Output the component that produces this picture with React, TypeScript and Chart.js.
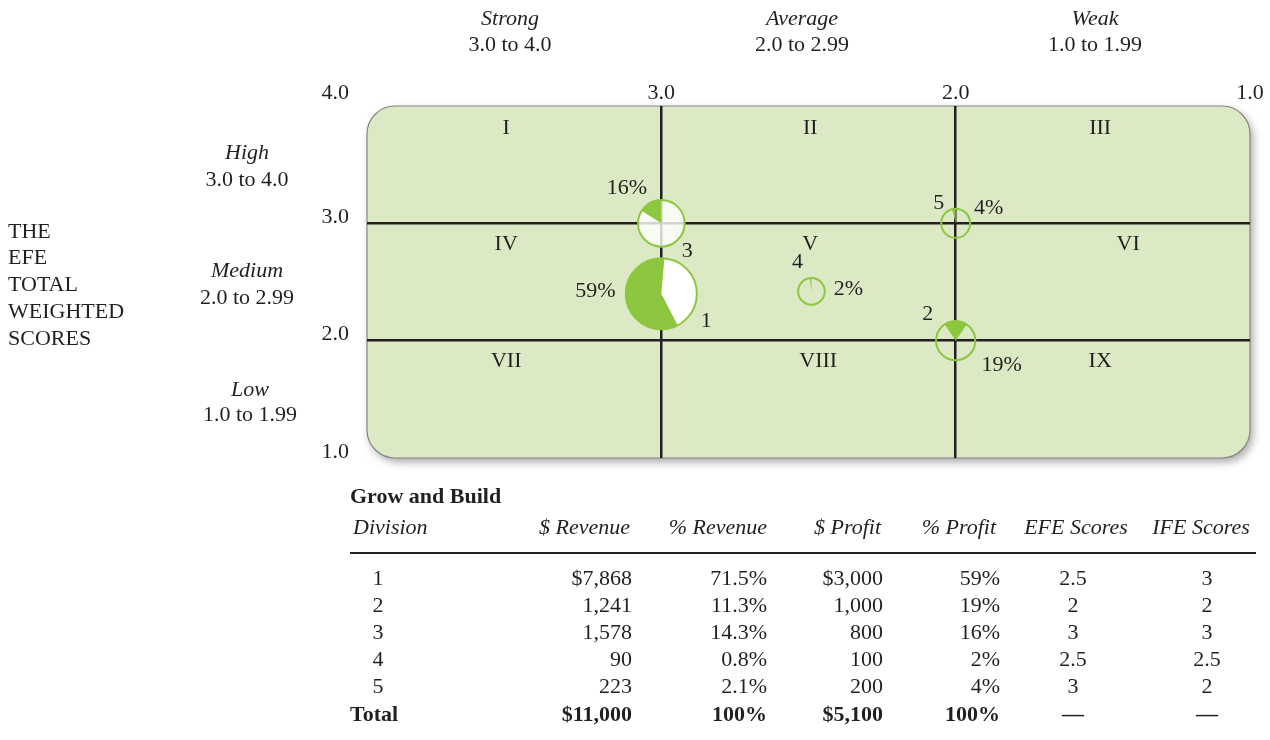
import React, { useEffect, useRef } from "react";
import { Chart, registerables } from "chart.js";
Chart.register(...registerables);

// ---------- data ----------
const divisions = ["1", "2", "3", "4", "5"];
const revenueText = ["$7,868", "1,241", "1,578", "90", "223"];
const revenuePctText = ["71.5%", "11.3%", "14.3%", "0.8%", "2.1%"];
const profitText = ["$3,000", "1,000", "800", "100", "200"];
const profitPct = [59, 19, 16, 2, 4];
const efeScores = ["2.5", "2", "3", "2.5", "3"];
const ifeScores = ["3", "2", "3", "2.5", "2"];
const totalRow = ["Total", "$11,000", "100%", "$5,100", "100%", "\u2014", "\u2014"];
const tableHeaders = ["Division", "$ Revenue", "% Revenue", "$ Profit", "% Profit", "EFE Scores", "IFE Scores"];
const tableTitle = "Grow and Build";

// positions of the pie-circles as plotted in the picture (IFE on x, EFE on y)
const plotIFE = [3, 2, 3, 2.49, 2];
const plotEFE = [2.4, 2, 3, 2.42, 3];
// circle radius (px)
const bubbleRadius = [35.5, 19.6, 23.3, 13.3, 14.5];

const axisTicks = [4, 3, 2, 1];
const cellNames = ["I", "II", "III", "IV", "V", "VI", "VII", "VIII", "IX"];
const ifeBandNames = ["Strong", "Average", "Weak"];
const ifeBandRanges = ["3.0 to 4.0", "2.0 to 2.99", "1.0 to 1.99"];
const efeBandNames = ["High", "Medium", "Low"];
const efeBandRanges = ["3.0 to 4.0", "2.0 to 2.99", "1.0 to 1.99"];
const efeTitleLines = ["THE", "EFE", "TOTAL", "WEIGHTED", "SCORES"];

// ---------- layout / style ----------
const FONT = '"Liberation Serif", "Times New Roman", serif';
const INK = "#231f20";
const GREEN = "#8dc63f";
const BG = "#dbe9c4";
const cellLabelPos = [
  [3.527, 3.82], [2.494, 3.82], [1.509, 3.82],
  [3.527, 2.832], [2.494, 2.832], [1.414, 2.832],
  [3.527, 1.835], [2.467, 1.835], [1.509, 1.835],
];
// label offsets relative to circle centre: [numDx, numDy, pctDx, pctDy]
const bubbleLabelOffsets = [
  [45, 26, -66, -4],
  [-28, -28, 46, 23],
  [26, 26, -34.5, -36.5],
  [-14, -31, 37, -3.5],
  [-17, -22, 33, -16.5],
];
// wedge start angle (deg clockwise from 12 o'clock); wedge runs counter-clockwise
const wedgeStart = [5, 34.2, 0, 0, 0];
const bubbleFill = ["#ffffff", "rgba(255,255,255,0)", "rgba(255,255,255,0.8)", "rgba(255,255,255,0)", "rgba(255,255,255,0)"];

const boxPlugin = {
  id: "boxBg",
  beforeDraw(chart: any) {
    const { ctx, chartArea: a } = chart;
    const r = 28;
    ctx.save();
    ctx.beginPath();
    ctx.moveTo(a.left + r, a.top);
    ctx.lineTo(a.right - r, a.top);
    ctx.arcTo(a.right, a.top, a.right, a.top + r, r);
    ctx.lineTo(a.right, a.bottom - r);
    ctx.arcTo(a.right, a.bottom, a.right - r, a.bottom, r);
    ctx.lineTo(a.left + r, a.bottom);
    ctx.arcTo(a.left, a.bottom, a.left, a.bottom - r, r);
    ctx.lineTo(a.left, a.top + r);
    ctx.arcTo(a.left, a.top, a.left + r, a.top, r);
    ctx.closePath();
    ctx.shadowColor = "rgba(0,0,0,0.35)";
    ctx.shadowBlur = 9;
    ctx.shadowOffsetX = 3;
    ctx.shadowOffsetY = 4;
    ctx.fillStyle = BG;
    ctx.fill();
    ctx.shadowColor = "rgba(0,0,0,0)";
    ctx.lineWidth = 1.2;
    ctx.strokeStyle = "#858585";
    ctx.stroke();
    ctx.restore();
  },
};

const wedgePlugin = {
  id: "wedges",
  afterDatasetsDraw(chart: any) {
    const { ctx } = chart;
    const meta = chart.getDatasetMeta(0);
    ctx.save();
    meta.data.forEach((el: any, i: number) => {
      const r = el.options.radius;
      const start = -Math.PI / 2 + (wedgeStart[i] * Math.PI) / 180;
      const span = (profitPct[i] / 100) * Math.PI * 2;
      ctx.beginPath();
      ctx.moveTo(el.x, el.y);
      ctx.arc(el.x, el.y, r, start, start - span, true);
      ctx.closePath();
      ctx.fillStyle = GREEN;
      ctx.fill();
    });
    ctx.restore();
  },
};

const labelPlugin = {
  id: "labels",
  afterDraw(chart: any) {
    const { ctx, chartArea: a, scales } = chart;
    const xs = scales.x;
    const ys = scales.y;
    const size = 22;
    const capMid = size * 0.33;
    ctx.save();
    ctx.font = `${size}px ${FONT}`;
    ctx.fillStyle = INK;
    ctx.textBaseline = "alphabetic";
    // axis tick labels
    xs.ticks.forEach((t: any) => {
      const label = Number(t.value).toFixed(1);
      if (t.value === 4) {
        ctx.textAlign = "right";
        ctx.fillText(label, a.left - 18, a.top - 14 + capMid);
      } else {
        ctx.textAlign = "center";
        ctx.fillText(label, xs.getPixelForValue(t.value), a.top - 14 + capMid);
      }
    });
    ys.ticks.forEach((t: any) => {
      if (t.value === 4) return;
      ctx.textAlign = "right";
      ctx.fillText(Number(t.value).toFixed(1), a.left - 18, ys.getPixelForValue(t.value) - 7.5 + capMid);
    });
    // cell numerals
    ctx.textAlign = "center";
    cellNames.forEach((n, i) => {
      const [vx, vy] = cellLabelPos[i];
      ctx.fillText(n, xs.getPixelForValue(vx), ys.getPixelForValue(vy) + capMid);
    });
    // bubble labels
    const meta = chart.getDatasetMeta(0);
    meta.data.forEach((el: any, i: number) => {
      const [ndx, ndy, pdx, pdy] = bubbleLabelOffsets[i];
      ctx.fillText(divisions[i], el.x + ndx, el.y + ndy + capMid);
      ctx.fillText(profitPct[i] + "%", el.x + pdx, el.y + pdy + capMid);
    });
    ctx.restore();
  },
};

type TProps = { x: number; y: number; align?: "left" | "center" | "right"; style?: any; children: any };
function T({ x, y, align = "center", style, children }: TProps) {
  const tx = align === "center" ? "-50%" : align === "right" ? "-100%" : "0";
  return (
    <div
      style={{
        position: "absolute",
        left: x,
        top: y,
        transform: `translate(${tx}, -50%)`,
        whiteSpace: "nowrap",
        lineHeight: 1.15,
        ...style,
      }}
    >
      {children}
    </div>
  );
}

const headerPos: [number, "left" | "center" | "right"][] = [
  [353, "left"], [630, "right"], [767, "right"], [881, "right"], [996, "right"], [1076, "center"], [1201, "center"],
];
const cellPos: [number, "left" | "center" | "right"][] = [
  [378, "center"], [632, "right"], [767, "right"], [883, "right"], [1000, "right"], [1073, "center"], [1207, "center"],
];
const rowY = [578, 605, 632, 659, 686];
const totalY = 714;

export default function App() {
  const canvasRef = useRef<HTMLCanvasElement | null>(null);

  useEffect(() => {
    const canvas = canvasRef.current;
    if (!canvas) return;
    const chart = new Chart(canvas, {
      type: "bubble",
      data: {
        datasets: [
          {
            data: divisions.map((_, i) => ({ x: plotIFE[i], y: plotEFE[i], r: bubbleRadius[i] })),
            backgroundColor: bubbleFill,
            borderColor: GREEN,
            borderWidth: 2,
          },
        ],
      },
      options: {
        responsive: false,
        animation: false,
        events: [],
        layout: { autoPadding: false, padding: { left: 367, top: 106, right: 20, bottom: 282 } },
        plugins: { legend: { display: false }, tooltip: { enabled: false } },
        scales: {
          x: {
            type: "linear",
            min: 1,
            max: 4,
            reverse: true,
            position: "top",
            ticks: { display: false, stepSize: 1 },
            grid: {
              drawTicks: false,
              lineWidth: 2.5,
              color: (c: any) => (c.tick && (c.tick.value === 2 || c.tick.value === 3) ? INK : "rgba(0,0,0,0)"),
            },
            border: { display: false },
          },
          y: {
            type: "linear",
            min: 1,
            max: 4,
            ticks: { display: false, stepSize: 1 },
            grid: {
              drawTicks: false,
              lineWidth: 2.5,
              color: (c: any) => (c.tick && (c.tick.value === 2 || c.tick.value === 3) ? INK : "rgba(0,0,0,0)"),
            },
            border: { display: false },
          },
        },
      },
      plugins: [boxPlugin, wedgePlugin, labelPlugin],
    } as any);
    return () => chart.destroy();
  }, []);

  const rows = divisions.map((d, i) => [d, revenueText[i], revenuePctText[i], profitText[i], profitPct[i] + "%", efeScores[i], ifeScores[i]]);

  return (
    <div
      style={{
        position: "absolute",
        left: 0,
        top: 0,
        width: 1270,
        height: 740,
        background: "#ffffff",
        fontFamily: FONT,
        fontSize: 22,
        color: INK,
        overflow: "hidden",
      }}
    >
      <canvas ref={canvasRef} width={1270} height={740} style={{ position: "absolute", left: 0, top: 0, display: "block" }} />

      {/* IFE bands header */}
      {[510, 802, 1095].map((cx, i) => (
        <React.Fragment key={"ib" + i}>
          <T x={cx} y={18} style={{ fontStyle: "italic" }}>{ifeBandNames[i]}</T>
          <T x={cx} y={44}>{ifeBandRanges[i]}</T>
        </React.Fragment>
      ))}

      {/* EFE bands */}
      {[[247, 152, 179], [247, 270, 297], [250, 389, 414]].map(([cx, y1, y2], i) => (
        <React.Fragment key={"eb" + i}>
          <T x={cx} y={y1} style={{ fontStyle: "italic" }}>{efeBandNames[i]}</T>
          <T x={cx} y={y2}>{efeBandRanges[i]}</T>
        </React.Fragment>
      ))}

      {efeTitleLines.map((s, i) => (
        <T key={"et" + i} x={8} y={230.5 + i * 26.75} align="left">{s}</T>
      ))}

      {/* table */}
      <T x={350} y={496} align="left" style={{ fontWeight: "bold" }}>{tableTitle}</T>
      {tableHeaders.map((h, i) => (
        <T key={"th" + i} x={headerPos[i][0]} y={527} align={headerPos[i][1]} style={{ fontStyle: "italic" }}>{h}</T>
      ))}
      <div style={{ position: "absolute", left: 350, top: 551.5, width: 906, height: 2.5, background: INK }} />
      {rows.map((row, r) =>
        row.map((v, c) => (
          <T key={`r${r}c${c}`} x={cellPos[c][0]} y={rowY[r]} align={cellPos[c][1]}>{v}</T>
        ))
      )}
      {totalRow.map((v, c) => (
        <T
          key={"tot" + c}
          x={c === 0 ? 350 : cellPos[c][0]}
          y={totalY}
          align={c === 0 ? "left" : cellPos[c][1]}
          style={{ fontWeight: "bold" }}
        >
          {v}
        </T>
      ))}
    </div>
  );
}
